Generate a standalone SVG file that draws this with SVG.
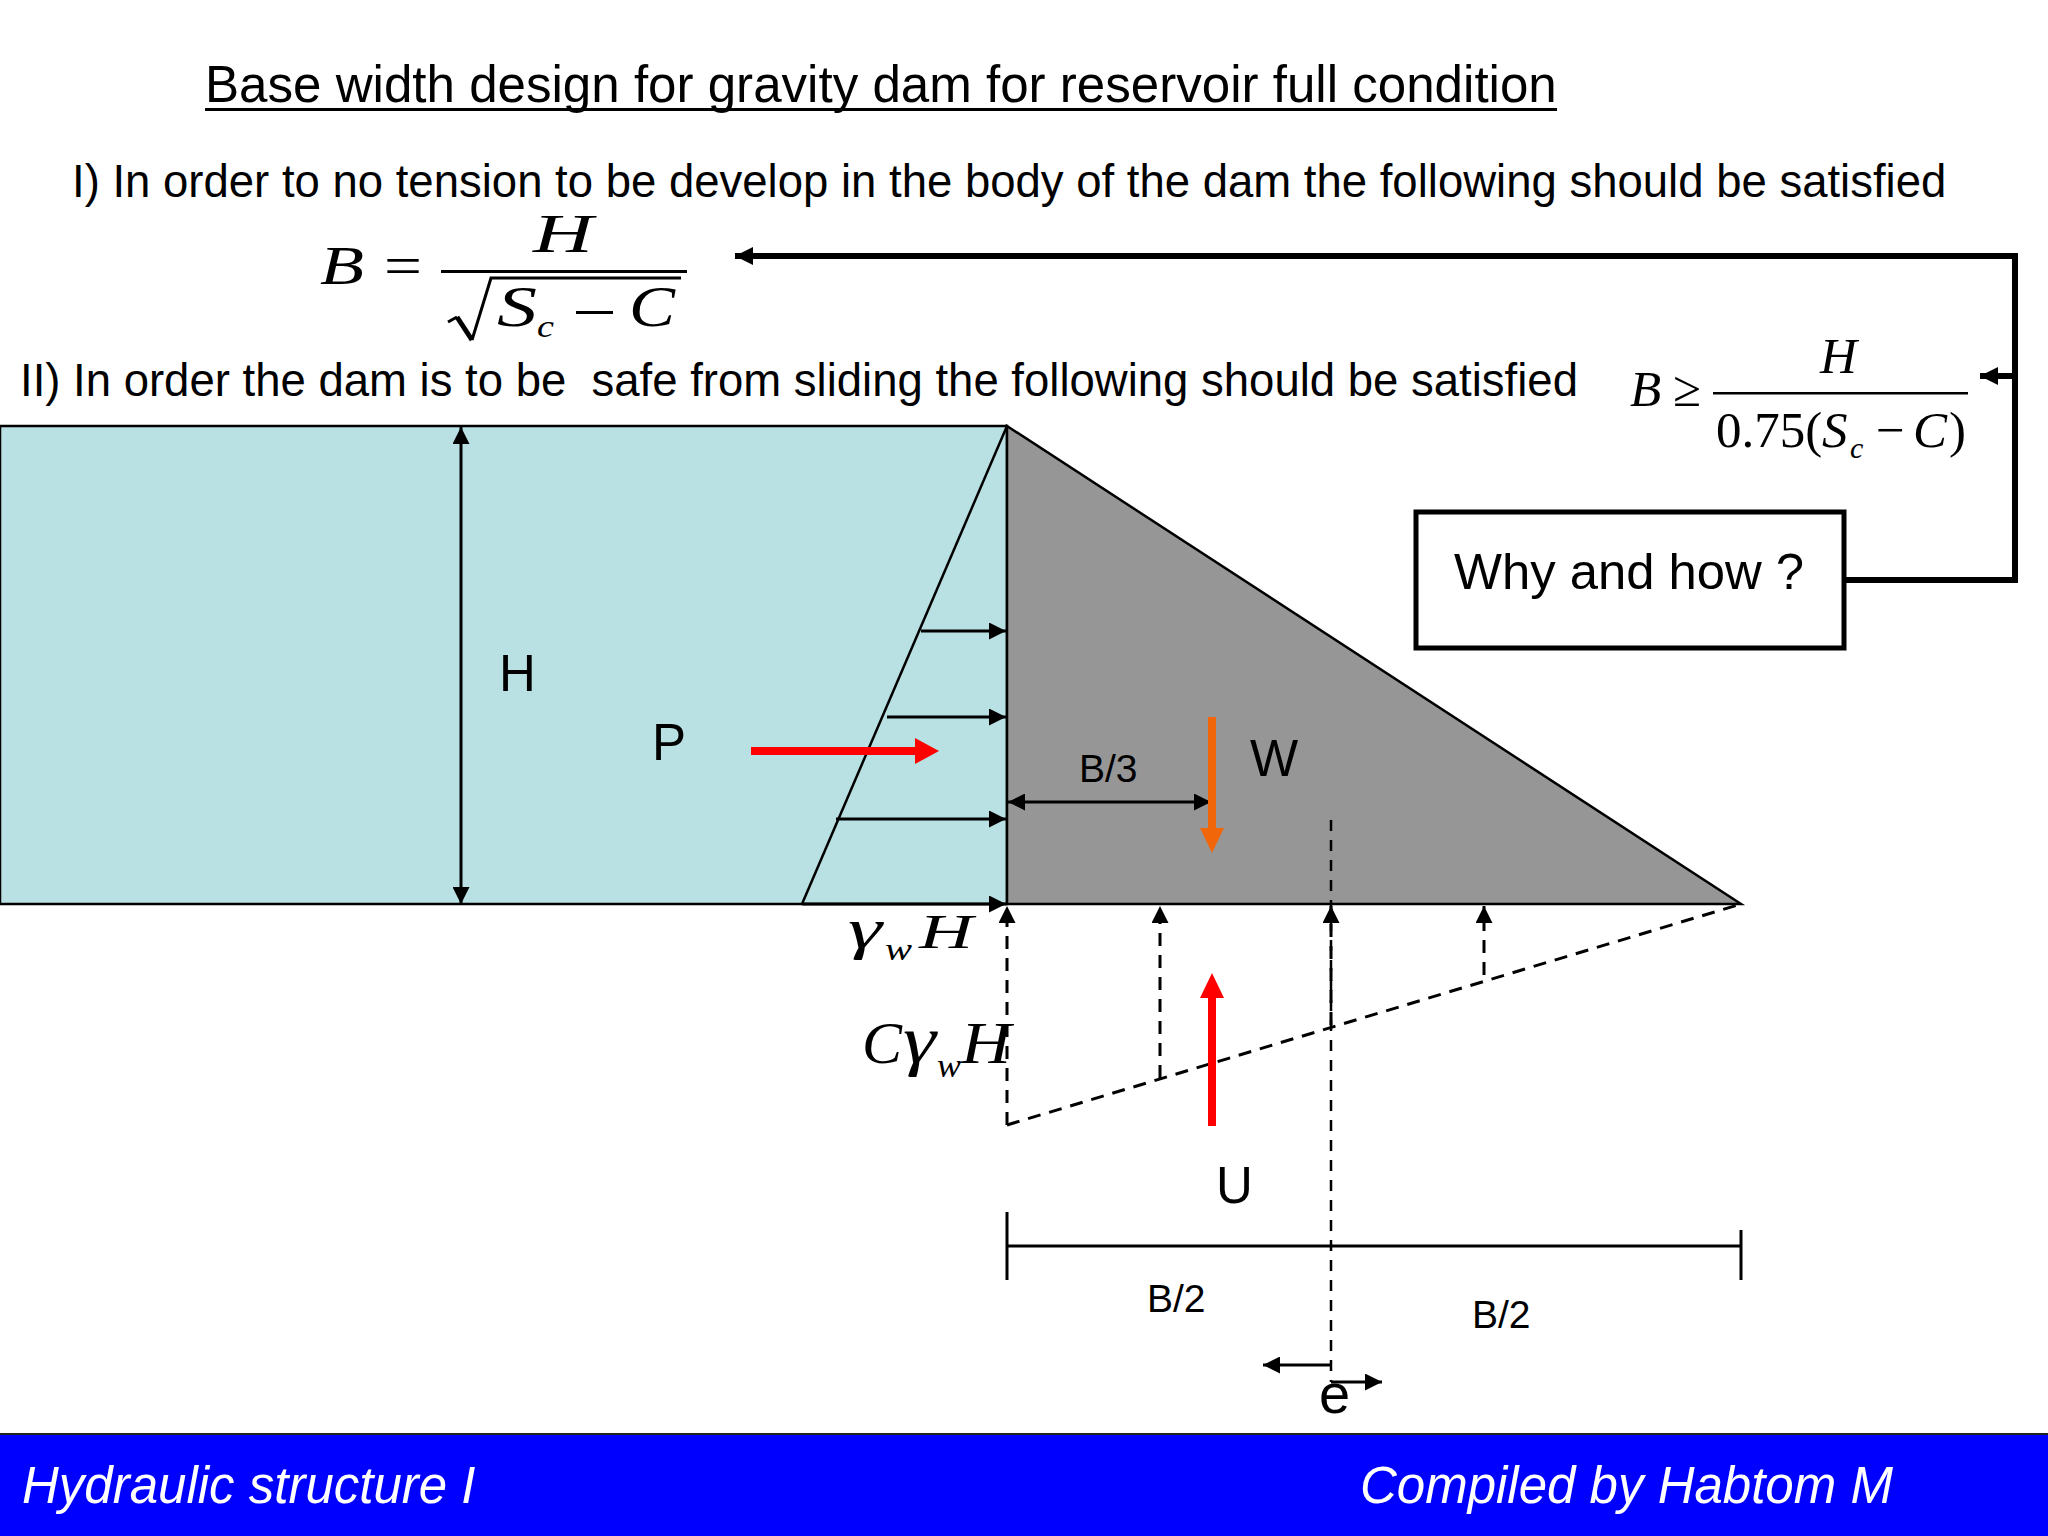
<svg xmlns="http://www.w3.org/2000/svg" width="2048" height="1536" viewBox="0 0 2048 1536">
<style>
.t{font-family:"Liberation Sans",Arial,sans-serif;fill:#000}
.m{font-family:"Liberation Serif","Times New Roman",serif;fill:#000}
.i{font-style:italic}
.l{stroke:#000;stroke-width:2.5;fill:none}
.a{stroke:#000;stroke-width:3;fill:none}
.d{stroke:#000;stroke-width:3;fill:none;stroke-dasharray:13 9}
.n{stroke:#000;stroke-width:2.5;fill:none;stroke-dasharray:11 9}
.k{stroke:#000;stroke-width:6;fill:none}
</style>
<defs>
<marker id="ah" markerUnits="userSpaceOnUse" markerWidth="17" markerHeight="17" refX="17" refY="8.5" orient="auto-start-reverse"><path d="M0 0L17 8.5L0 17z" fill="#000"/></marker>
<marker id="ak" markerUnits="userSpaceOnUse" markerWidth="18" markerHeight="18" refX="18" refY="9" orient="auto"><path d="M0 0L18 9L0 18z" fill="#000"/></marker>
</defs>
<rect width="2048" height="1536" fill="#fff"/>
<g id="water"><rect x="0" y="426" width="1007" height="478" fill="#b9e0e2" stroke="#000" stroke-width="2.5"/></g>
<g id="dam"><path d="M1007 426L1741 904L1007 904z" fill="#969696" stroke="#000" stroke-width="2.5"/></g>
<g id="titles">
<text class="t" x="205" y="102" font-size="51.1">Base width design for gravity dam for reservoir full condition</text>
<rect x="205" y="108" width="1352" height="3" fill="#000"/>
<text class="t" x="72" y="197" font-size="45.5">I) In order to no tension to be develop in the body of the dam the following should be satisfied</text>
<text class="t" x="20" y="396" font-size="45.5" xml:space="preserve">II) In order the dam is to be  safe from sliding the following should be satisfied</text>
</g>
<g id="formula1">
<text class="m i" x="320" y="284" font-size="54" textLength="44" lengthAdjust="spacingAndGlyphs">B</text>
<text class="m" x="384" y="285" font-size="56" textLength="38" lengthAdjust="spacingAndGlyphs">=</text>
<text class="m i" x="533" y="252" font-size="54" textLength="60" lengthAdjust="spacingAndGlyphs">H</text>
<rect x="441" y="270" width="246" height="3" fill="#000"/>
<path d="M448 322L457 317" class="a"/>
<path d="M457 317L472 340" stroke="#000" stroke-width="5" fill="none"/>
<path d="M472 340L491 278H681" class="a"/>
<text class="m i" x="497" y="326" font-size="56" textLength="40" lengthAdjust="spacingAndGlyphs">S</text>
<text class="m i" x="537" y="337" font-size="32" textLength="17" lengthAdjust="spacingAndGlyphs">c</text>
<rect x="576" y="311" width="37" height="3" fill="#000"/>
<text class="m i" x="629" y="326" font-size="56" textLength="46" lengthAdjust="spacingAndGlyphs">C</text>
</g>
<g id="formula2">
<text class="m i" x="1630" y="406" font-size="51">B</text>
<text class="m" x="1673" y="406" font-size="51">≥</text>
<text class="m i" x="1820" y="373" font-size="51">H</text>
<rect x="1713" y="392" width="255" height="2.5" fill="#000"/>
<text class="m" x="1716" y="447" font-size="51">0.75(</text>
<text class="m i" x="1822" y="447" font-size="51">S</text>
<text class="m i" x="1850" y="458" font-size="30">c</text>
<text class="m" x="1876" y="447" font-size="51">−</text>
<text class="m i" x="1913" y="447" font-size="51">C</text>
<text class="m" x="1949" y="447" font-size="51">)</text>
</g>
<g id="why-box">
<rect x="1416" y="512" width="428" height="136" fill="#fff" stroke="#000" stroke-width="5"/>
<text class="t" x="1454" y="589" font-size="50.8">Why and how ?</text>
</g>
<g id="connectors">
<path class="k" d="M1844 580H2015V256H735" marker-end="url(#ak)"/>
<path class="k" d="M2015 376H1980" marker-end="url(#ak)"/>
<path class="a" d="M461 427V904" marker-start="url(#ah)" marker-end="url(#ah)"/>
<path class="l" d="M1007 426L802 904"/>
<path class="a" d="M921 631H1006" marker-end="url(#ah)"/>
<path class="a" d="M887 717H1006" marker-end="url(#ah)"/>
<path class="a" d="M836 819H1006" marker-end="url(#ah)"/>
<path class="a" d="M802 904H1006" marker-end="url(#ah)"/>
<path class="a" d="M1008 802H1211" marker-start="url(#ah)" marker-end="url(#ah)"/>
<path class="d" d="M1007 1125V906" marker-end="url(#ah)"/>
<path class="d" d="M1160 1078V906" marker-end="url(#ah)"/>
<path class="d" d="M1331 1025V906" marker-end="url(#ah)"/>
<path class="d" d="M1484 975V906" marker-end="url(#ah)"/>
<path class="d" d="M1007 1125L1741 904"/>
<path class="n" d="M1331 820V1382"/>
<path class="a" d="M1007 1246H1741"/>
<path class="a" d="M1007 1212V1280"/>
<path class="a" d="M1741 1230V1280"/>
<path class="a" d="M1331 1365H1263" marker-end="url(#ah)"/>
<path class="a" d="M1331 1382H1382" marker-end="url(#ah)"/>
</g>
<g id="forces">
<path d="M751 747H915V738L939 751L915 764V755H751z" fill="#f00"/>
<path d="M1208 717H1216V828H1224L1212 853L1200 828H1208z" fill="#f2660a"/>
<path d="M1208 1126V998H1200L1212 973L1224 998H1216V1126z" fill="#f00"/>
</g>
<g id="labels">
<text class="t" x="499" y="691" font-size="51">H</text>
<text class="t" x="652" y="760" font-size="51">P</text>
<text class="t" x="1250" y="776" font-size="51">W</text>
<text class="t" x="1079" y="782" font-size="39">B/3</text>
<text class="t" x="1216" y="1203" font-size="51">U</text>
<text class="t" x="1147" y="1312" font-size="39">B/2</text>
<text class="t" x="1472" y="1328" font-size="39">B/2</text>
<text class="t" x="1319" y="1413" font-size="56">e</text>
<text class="m i" x="848" y="948" font-size="58" textLength="34" lengthAdjust="spacingAndGlyphs">γ</text>
<text class="m i" x="885" y="960" font-size="32" textLength="27" lengthAdjust="spacingAndGlyphs">w</text>
<text class="m i" x="919" y="948" font-size="48" textLength="54" lengthAdjust="spacingAndGlyphs">H</text>
<text class="m i" x="862" y="1063" font-size="60" textLength="40" lengthAdjust="spacingAndGlyphs">C</text>
<text class="m i" x="903" y="1063" font-size="68" textLength="33" lengthAdjust="spacingAndGlyphs">γ</text>
<text class="m i" x="937" y="1077" font-size="34" textLength="24" lengthAdjust="spacingAndGlyphs">w</text>
<text class="m i" x="961" y="1063" font-size="60" textLength="50" lengthAdjust="spacingAndGlyphs">H</text>
</g>
<g id="footer">
<rect x="0" y="1433" width="2048" height="103" fill="#00f"/>
<rect x="0" y="1433" width="2048" height="2" fill="#222"/>
<text class="t i" x="22" y="1503" font-size="51" style="fill:#fff">Hydraulic structure I</text>
<text class="t i" x="1360" y="1503" font-size="51" style="fill:#fff">Compiled by Habtom M</text>
</g>
</svg>
